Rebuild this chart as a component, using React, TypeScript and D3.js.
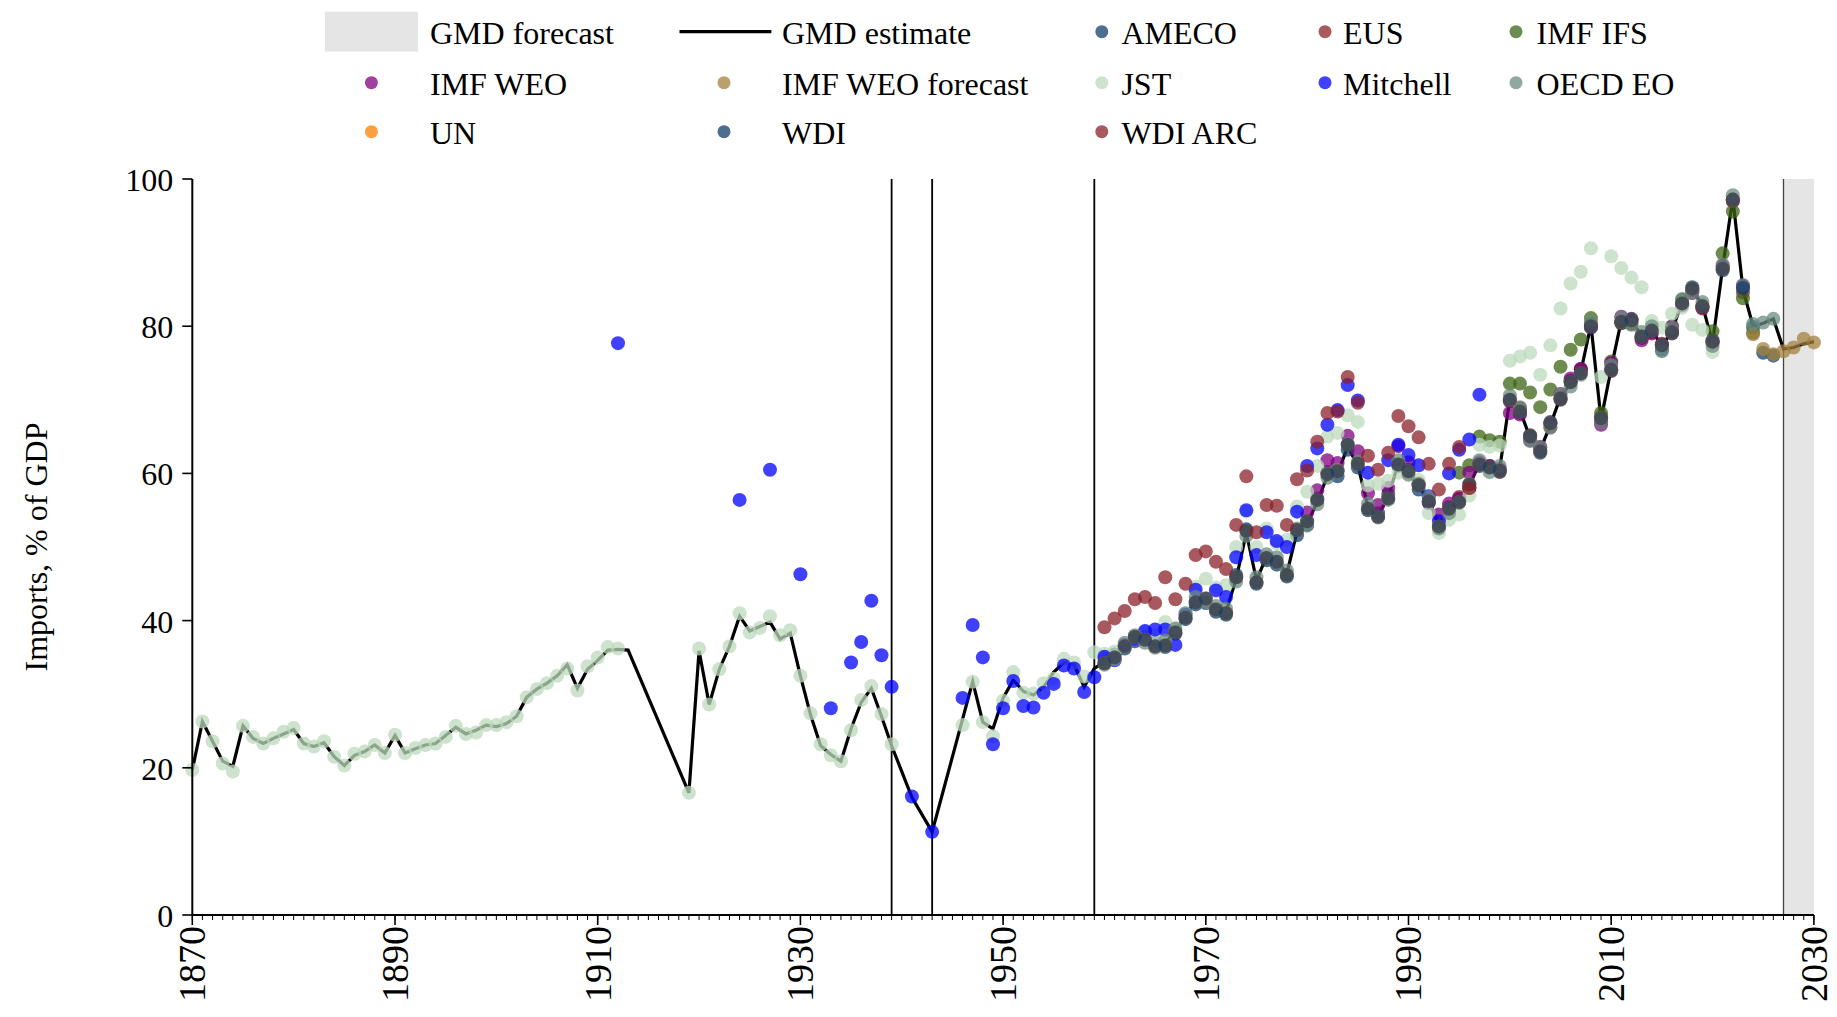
import React from 'react';
import * as d3 from 'd3';

type Pt = [number, number];

// ---------- axis / annotation values ----------
const xTickYears = [1870, 1890, 1910, 1930, 1950, 1970, 1990, 2010, 2030];
const yTickValues = [0, 20, 40, 60, 80, 100];
const eventYears = [1939, 1943, 1959];
const forecastStart = 2027;
const forecastEnd = 2030;
const yLabel = 'Imports, % of GDP';

// ---------- series ----------
const gmdEstimate: Pt[] = [
  [1870, 19.7], [1871, 26.3], [1872, 23.6], [1873, 20.9], [1874, 20.2], [1875, 25.7], [1876, 24.0], [1877, 23.3],
  [1878, 24.0], [1879, 24.6], [1880, 25.2], [1881, 23.3], [1882, 22.9], [1883, 23.4], [1884, 21.5], [1885, 20.3],
  [1886, 21.7], [1887, 22.2], [1888, 23.1], [1889, 22.0], [1890, 24.4], [1891, 22.0], [1892, 22.6], [1893, 23.1],
  [1894, 23.3], [1895, 24.4], [1896, 25.5], [1897, 24.6], [1898, 25.1], [1899, 25.8], [1900, 25.6], [1901, 26.0],
  [1902, 27.0], [1903, 29.6], [1904, 30.7], [1905, 31.5], [1906, 32.5], [1907, 34.0], [1908, 30.8], [1909, 33.4],
  [1910, 34.6], [1911, 36.0], [1912, 36.1], [1913, 36.0],
  [1919, 16.6], [1920, 35.9], [1921, 28.6], [1922, 33.4], [1923, 36.5], [1924, 40.6], [1925, 38.6], [1926, 39.2],
  [1927, 39.8], [1928, 37.5], [1929, 38.3], [1930, 32.5], [1931, 27.2], [1932, 23.0], [1933, 21.8], [1934, 20.9],
  [1935, 25.3], [1936, 28.9], [1937, 30.8], [1938, 27.0], [1939, 23.0], [1941, 16.0], [1943, 11.3],
  [1947, 31.7], [1948, 26.2], [1949, 25.3], [1950, 29.5], [1951, 31.9], [1952, 30.4], [1953, 29.9], [1954, 31.0],
  [1955, 33.0], [1956, 34.3], [1957, 34.0], [1958, 31.0], [1959, 33.5],
  [1960, 34.4], [1961, 35.1], [1962, 36.7], [1963, 37.6], [1964, 37.5], [1965, 36.8], [1966, 36.9], [1967, 38.7],
  [1968, 40.6], [1969, 42.8], [1970, 42.8], [1971, 41.7], [1972, 41.2], [1973, 45.7], [1974, 51.9], [1975, 45.5],
  [1976, 48.7], [1977, 48.2], [1978, 46.4], [1979, 52.1], [1980, 53.2], [1981, 56.1], [1982, 59.7], [1983, 60.0],
  [1984, 63.6], [1985, 61.1], [1986, 55.5], [1987, 54.3], [1988, 56.8], [1989, 61.4], [1990, 60.1], [1991, 58.2],
  [1992, 56.4], [1993, 53.0], [1994, 55.0], [1995, 56.3], [1996, 58.3], [1997, 61.4], [1998, 60.6], [1999, 60.6],
  [2000, 70.2], [2001, 68.6], [2002, 64.8], [2003, 63.2], [2004, 66.6], [2005, 70.4], [2006, 72.2], [2007, 73.8],
  [2008, 80.2], [2009, 67.3], [2010, 74.3], [2011, 80.8], [2012, 80.6], [2013, 78.8], [2014, 79.6], [2015, 77.2],
  [2016, 79.4], [2017, 83.3], [2018, 84.9], [2019, 82.9], [2020, 77.7], [2021, 88.0], [2022, 97.4], [2023, 85.0],
  [2024, 80.0], [2025, 80.4], [2026, 81.0], [2027, 76.9], [2028, 77.1], [2029, 77.6], [2030, 77.9],
];

const ameco: Pt[] = [
  [1960, 34.8], [1961, 35.4], [1962, 36.2], [1963, 37.2], [1964, 37.8], [1965, 37.0], [1966, 36.4], [1967, 38.2],
  [1968, 40.2], [1969, 42.2], [1970, 42.4], [1971, 41.2], [1972, 40.8], [1973, 46.2], [1974, 52.4], [1975, 45.0],
  [1976, 48.2], [1977, 47.6], [1978, 46.0], [1979, 51.6], [1980, 53.0], [1981, 56.6], [1982, 60.2], [1983, 59.6],
  [1984, 63.2], [1985, 60.8], [1986, 55.0], [1987, 54.6], [1988, 57.2], [1989, 61.0], [1990, 60.5], [1991, 57.8],
  [1992, 56.0], [1993, 52.6], [1994, 55.4], [1995, 56.6], [1996, 58.0], [1997, 61.0], [1998, 61.0], [1999, 60.2],
  [2000, 69.8], [2001, 68.2], [2002, 65.2], [2003, 62.8], [2004, 67.0], [2005, 70.0], [2006, 72.6], [2007, 74.2],
  [2008, 79.8], [2009, 67.7], [2010, 73.9], [2011, 80.4], [2012, 81.0], [2013, 78.4], [2014, 79.2], [2015, 76.8],
  [2016, 79.0], [2017, 82.9], [2018, 85.3], [2019, 82.5], [2020, 78.1], [2021, 87.6], [2022, 97.0], [2023, 85.4],
  [2024, 79.9], [2025, 76.4], [2026, 76.0],
];

const eus: Pt[] = [
  [1995, 56.8], [1996, 58.0], [1997, 61.2], [1998, 60.9], [1999, 60.3], [2000, 69.9], [2001, 68.9], [2002, 65.1],
  [2003, 63.5], [2004, 66.3], [2005, 70.1], [2006, 72.5], [2007, 74.1], [2008, 80.3], [2009, 67.0], [2010, 74.0],
  [2011, 80.5], [2012, 80.3], [2013, 78.5], [2014, 79.3], [2015, 77.6], [2016, 79.1], [2017, 83.0], [2018, 84.9],
  [2019, 82.4], [2020, 77.8], [2021, 88.1], [2022, 97.0], [2023, 84.6],
];

const imfIfs: Pt[] = [
  [1995, 60.1], [1996, 61.1], [1997, 65.0], [1998, 64.5], [1999, 64.3], [2000, 72.2], [2001, 72.2], [2002, 71.0],
  [2003, 69.0], [2004, 71.4], [2005, 74.5], [2006, 76.8], [2007, 78.2], [2008, 81.1], [2009, 68.2], [2010, 75.2],
  [2011, 80.5], [2012, 80.5], [2013, 78.5], [2014, 79.2], [2015, 77.5], [2016, 80.0], [2017, 83.6], [2018, 84.8],
  [2019, 82.8], [2020, 79.3], [2021, 89.9], [2022, 95.6], [2023, 83.8], [2024, 79.1],
];

const imfWeo: Pt[] = [
  [1980, 54.7], [1981, 57.7], [1982, 61.8], [1983, 61.4], [1984, 65.1], [1985, 63.0], [1986, 57.3], [1987, 55.7],
  [1988, 58.0], [1989, 63.7], [1990, 61.5], [1991, 58.5], [1992, 56.0], [1993, 54.4], [1994, 55.9], [1995, 56.5],
  [1996, 60.1], [1997, 61.5], [1998, 61.0], [1999, 60.6], [2000, 68.2], [2001, 68.0], [2002, 64.5], [2003, 63.6],
  [2004, 66.8], [2005, 70.8], [2006, 72.9], [2007, 74.2], [2008, 79.9], [2009, 66.6], [2010, 75.0], [2011, 81.3],
  [2012, 80.9], [2013, 78.1], [2014, 79.0], [2015, 77.5], [2016, 79.9], [2017, 82.8], [2018, 84.5], [2019, 82.6],
  [2020, 77.8], [2021, 88.2], [2022, 97.2], [2023, 85.5],
];

const imfWeoForecast: Pt[] = [
  [2024, 78.9], [2025, 76.9], [2026, 76.2], [2027, 76.6], [2028, 77.1], [2029, 78.3], [2030, 77.8],
];

const jst: Pt[] = [
  [1870, 19.7], [1871, 26.3], [1872, 23.6], [1873, 20.6], [1874, 19.5], [1875, 25.7], [1876, 24.2], [1877, 23.3],
  [1878, 24.0], [1879, 24.9], [1880, 25.4], [1881, 23.3], [1882, 22.9], [1883, 23.6], [1884, 21.5], [1885, 20.3],
  [1886, 21.9], [1887, 22.2], [1888, 23.1], [1889, 22.0], [1890, 24.5], [1891, 22.0], [1892, 22.7], [1893, 23.1],
  [1894, 23.3], [1895, 24.2], [1896, 25.7], [1897, 24.6], [1898, 24.8], [1899, 25.8], [1900, 25.8], [1901, 26.2],
  [1902, 27.0], [1903, 29.6], [1904, 30.7], [1905, 31.5], [1906, 32.5], [1907, 33.5], [1908, 30.5], [1909, 33.8],
  [1910, 35.0], [1911, 36.4], [1912, 36.2],
  [1919, 16.6], [1920, 36.2], [1921, 28.6], [1922, 33.4], [1923, 36.5], [1924, 41.0], [1925, 38.4], [1926, 39.0],
  [1927, 40.6], [1928, 38.0], [1929, 38.7], [1930, 32.5], [1931, 27.4], [1932, 23.2], [1933, 21.7], [1934, 20.9],
  [1935, 25.1], [1936, 29.2], [1937, 31.1], [1938, 27.3], [1939, 23.2],
  [1946, 25.8], [1947, 31.7], [1948, 26.2], [1949, 24.3], [1950, 29.1], [1951, 33.0], [1952, 30.2], [1953, 30.1],
  [1954, 31.5], [1955, 32.1], [1956, 34.8], [1957, 34.3], [1958, 32.4], [1959, 35.7],
  [1960, 35.5], [1961, 35.8], [1962, 36.5], [1963, 37.5], [1964, 38.5], [1965, 38.0], [1966, 39.8], [1967, 39.0],
  [1968, 41.0], [1969, 44.6], [1970, 45.7], [1971, 44.5], [1972, 44.8], [1973, 50.0], [1974, 54.8], [1975, 50.0],
  [1976, 52.5], [1977, 50.5], [1978, 51.0], [1979, 55.5], [1980, 57.5], [1981, 61.0], [1982, 65.0], [1983, 65.5],
  [1984, 67.9], [1985, 67.0], [1986, 58.4], [1987, 58.6], [1988, 59.0], [1989, 60.1], [1990, 60.0], [1991, 59.1],
  [1992, 54.6], [1993, 51.9], [1994, 53.7], [1995, 54.4], [1996, 57.0], [1997, 63.9], [1998, 63.6], [1999, 63.8],
  [2000, 75.3], [2001, 75.9], [2002, 76.4], [2003, 73.4], [2004, 77.4], [2005, 82.4], [2006, 85.8], [2007, 87.4],
  [2008, 90.6], [2009, 73.1], [2010, 89.5], [2011, 87.9], [2012, 86.6], [2013, 85.3], [2014, 80.7], [2015, 79.8],
  [2016, 81.7], [2017, 82.5], [2018, 80.2], [2019, 79.5], [2020, 76.5],
];

const mitchell: Pt[] = [
  [1912, 77.7], [1924, 56.4], [1927, 60.5], [1930, 46.3], [1933, 28.1], [1935, 34.3], [1936, 37.1], [1937, 42.7],
  [1938, 35.3], [1939, 31.0], [1941, 16.1], [1943, 11.3], [1946, 29.5], [1947, 39.4], [1948, 35.0], [1949, 23.2],
  [1950, 28.1], [1951, 31.8], [1952, 28.4], [1953, 28.2], [1954, 30.2], [1955, 31.4], [1956, 33.9], [1957, 33.5],
  [1958, 30.3], [1959, 32.3], [1960, 35.1], [1961, 34.6], [1962, 36.7], [1963, 37.5], [1964, 38.6], [1965, 38.8],
  [1966, 38.8], [1967, 36.7], [1968, 40.8], [1969, 44.2], [1971, 44.1], [1972, 43.2], [1973, 48.6], [1974, 55.0],
  [1975, 48.9], [1976, 52.0], [1977, 50.8], [1978, 50.0], [1979, 54.8], [1980, 61.0], [1981, 63.4], [1982, 66.6],
  [1983, 68.6], [1984, 72.0], [1985, 69.9], [1986, 60.1], [1988, 61.8], [1989, 63.9], [1990, 62.5], [1991, 61.1],
  [1992, 56.9], [1993, 53.5], [1994, 60.0], [1995, 63.2], [1996, 64.6], [1997, 70.7],
];

const oecdEo: Pt[] = [
  [1960, 34.0], [1961, 34.7], [1962, 37.0], [1963, 38.0], [1964, 37.0], [1965, 36.3], [1966, 37.3], [1967, 38.9],
  [1968, 41.0], [1969, 43.2], [1970, 42.4], [1971, 42.0], [1972, 41.6], [1973, 45.3], [1974, 51.5], [1975, 45.9],
  [1976, 49.0], [1977, 48.6], [1978, 46.8], [1979, 52.5], [1980, 52.9], [1981, 55.8], [1982, 59.4], [1983, 60.5],
  [1984, 64.0], [1985, 61.6], [1986, 55.9], [1987, 54.0], [1988, 56.4], [1989, 61.8], [1990, 59.8], [1991, 58.6],
  [1992, 56.8], [1993, 52.5], [1994, 54.6], [1995, 56.0], [1996, 58.6], [1997, 61.8], [1998, 60.2], [1999, 61.0],
  [2000, 70.6], [2001, 69.0], [2002, 64.4], [2003, 63.6], [2004, 66.2], [2005, 70.8], [2006, 71.8], [2007, 73.4],
  [2008, 80.6], [2009, 66.9], [2010, 74.7], [2011, 81.2], [2012, 80.2], [2013, 79.2], [2014, 80.0], [2015, 76.6],
  [2016, 79.8], [2017, 83.7], [2018, 84.5], [2019, 83.3], [2020, 77.3], [2021, 88.4], [2022, 97.8], [2023, 85.6],
  [2024, 80.3], [2025, 80.5], [2026, 81.0],
];

const un: Pt[] = [
  [1960, 34.2], [1961, 35.0], [1962, 36.5], [1963, 37.8], [1964, 37.4], [1965, 36.5], [1966, 36.6], [1967, 38.4],
  [1968, 40.4], [1969, 42.5],
  [1970, 43.0], [1971, 41.5], [1972, 41.0], [1973, 45.9], [1974, 52.2], [1975, 45.2], [1976, 48.5], [1977, 48.0],
  [1978, 46.2], [1979, 52.3], [1980, 53.5], [1981, 56.4], [1982, 59.9], [1983, 60.3], [1984, 63.9], [1985, 61.3],
  [1986, 55.2], [1987, 54.1], [1988, 56.6], [1989, 61.2], [1990, 60.3], [1991, 58.4], [1992, 56.2], [1993, 52.8],
  [1994, 55.2], [1995, 56.1], [1996, 58.5], [1997, 61.2], [1998, 60.8], [1999, 60.4], [2000, 70.0], [2001, 68.4],
  [2002, 65.0], [2003, 63.0], [2004, 66.8], [2005, 70.2], [2006, 72.4], [2007, 73.6], [2008, 80.0], [2009, 67.5],
  [2010, 74.1], [2011, 80.6], [2012, 80.8], [2013, 78.6], [2014, 79.4], [2015, 77.4], [2016, 79.2], [2017, 83.1],
  [2018, 85.1], [2019, 82.7], [2020, 77.9], [2021, 87.8], [2022, 97.2],
];

const wdi: Pt[] = [
  [1960, 34.2], [1961, 35.0], [1962, 36.5], [1963, 37.8], [1964, 37.4], [1965, 36.5], [1966, 36.6], [1967, 38.4],
  [1968, 40.4], [1969, 42.5], [1970, 43.0], [1971, 41.5], [1972, 41.0], [1973, 45.9], [1974, 52.2], [1975, 45.2],
  [1976, 48.5], [1977, 48.0], [1978, 46.2], [1979, 52.3], [1980, 53.5], [1981, 56.4], [1982, 59.9], [1983, 60.3],
  [1984, 63.9], [1985, 61.3], [1986, 55.2], [1987, 54.1], [1988, 56.6], [1989, 61.2], [1990, 60.3], [1991, 58.4],
  [1992, 56.2], [1993, 52.8], [1994, 55.2], [1995, 56.1], [1996, 58.5], [1997, 61.2], [1998, 60.8], [1999, 60.4],
  [2000, 70.0], [2001, 68.4], [2002, 65.0], [2003, 63.0], [2004, 66.8], [2005, 70.2], [2006, 72.4], [2007, 73.6],
  [2008, 80.0], [2009, 67.5], [2010, 74.1], [2011, 80.6], [2012, 80.8], [2013, 78.6], [2014, 79.4], [2015, 77.4],
  [2016, 79.2], [2017, 83.1], [2018, 85.1], [2019, 82.7], [2020, 77.9], [2021, 87.8], [2022, 97.2], [2023, 85.2],
];

const wdiArc: Pt[] = [
  [1960, 39.1], [1961, 40.3], [1962, 41.3], [1963, 42.9], [1964, 43.2], [1965, 42.4], [1966, 45.9], [1967, 42.9],
  [1968, 45.0], [1969, 48.9], [1970, 49.4], [1971, 48.0], [1972, 47.0], [1973, 53.0], [1974, 59.6], [1975, 52.0],
  [1976, 55.7], [1977, 55.6], [1978, 53.0], [1979, 59.2], [1980, 60.4], [1981, 64.3], [1982, 68.2], [1983, 68.4],
  [1984, 73.1], [1985, 69.6], [1986, 62.4], [1987, 60.5], [1988, 62.8], [1989, 67.8], [1990, 66.4], [1991, 64.9],
  [1992, 61.3], [1993, 57.8], [1994, 61.3], [1995, 63.6], [1996, 58.0],
];

const seriesNames = ['AMECO', 'EUS', 'IMF IFS', 'IMF WEO', 'IMF WEO forecast', 'JST', 'Mitchell', 'OECD EO', 'UN', 'WDI', 'WDI ARC'];
const seriesColors = ['#11406c', '#8d2329', '#3d6515', '#800080', '#a1803d', '#bcd9bc', '#0000ff', '#698b80', '#ff8000', '#113d6c', '#8b2029'];
const seriesData: Pt[][] = [ameco, eus, imfIfs, imfWeo, imfWeoForecast, jst, mitchell, oecdEo, un, wdi, wdiArc];

// legend grid order (row-major, 5 columns)
const legendOrder = ['GMD forecast', 'GMD estimate', 'AMECO', 'EUS', 'IMF IFS', 'IMF WEO', 'IMF WEO forecast', 'JST', 'Mitchell', 'OECD EO', 'UN', 'WDI', 'WDI ARC'];

// ---------- layout ----------
const W = 1837;
const H = 1017;
const X0 = 192.3;
const X1 = 1813.9;
const Y0 = 915;
const Y1 = 179;
const FONT = "'Liberation Serif', 'Times New Roman', Times, serif";
const DOT_R = 7;
const DOT_OPACITY = 0.75;

const legendColMarker = [371.4, 724, 1101.8, 1325, 1516];
const legendColText = [430, 782, 1121.4, 1343, 1536.6];
const legendRowBaseline = [43.5, 94.5, 143.5];

export default function App() {
  const x = d3.scaleLinear().domain([1870, 2030]).range([X0, X1]);
  const y = d3.scaleLinear().domain([0, 100]).range([Y0, Y1]);
  const line = d3.line<Pt>().x((d) => x(d[0])).y((d) => y(d[1]));
  const minorYears = d3.range(1870, 2031);

  const legend = legendOrder.map((name, i) => {
    const row = Math.floor(i / 5);
    const col = i % 5;
    const base = legendRowBaseline[row];
    const my = base - 11.8;
    let handle: React.ReactNode = null;
    if (name === 'GMD forecast') {
      handle = <rect x={325} y={11.7} width={93} height={40} fill="#e5e5e5" />;
    } else if (name === 'GMD estimate') {
      handle = <line x1={679.5} x2={771.4} y1={my} y2={my} stroke="#000" strokeWidth={3.2} />;
    } else {
      const si = seriesNames.indexOf(name);
      handle = <circle cx={legendColMarker[col]} cy={my} r={6.5} fill={seriesColors[si]} fillOpacity={DOT_OPACITY} />;
    }
    return (
      <g key={name}>
        {handle}
        <text x={legendColText[col]} y={base} fontSize={32} fontFamily={FONT} fill="#000">{name}</text>
      </g>
    );
  });

  return (
    <div style={{ position: 'absolute', left: 0, top: 0 }}>
      <svg width={W} height={H} style={{ display: 'block', background: '#fff' }}>
        {/* forecast shading */}
        <rect x={x(forecastStart)} y={y(100)} width={x(forecastEnd) - x(forecastStart)} height={y(0) - y(100)} fill="#e5e5e5" />
        <line x1={x(forecastStart)} x2={x(forecastStart)} y1={y(100)} y2={y(0)} stroke="#444" strokeWidth={1.3} />
        {/* event lines */}
        {eventYears.map((yr) => (
          <line key={yr} x1={x(yr)} x2={x(yr)} y1={y(100)} y2={y(0)} stroke="#000" strokeWidth={1.8} />
        ))}
        {/* GMD estimate line */}
        <path d={line(gmdEstimate) || ''} fill="none" stroke="#000" strokeWidth={3.2} strokeLinejoin="miter" />
        {/* source dots */}
        {seriesData.map((data, si) => (
          <g key={seriesNames[si]} fill={seriesColors[si]} fillOpacity={DOT_OPACITY}>
            {data.map((d) => (
              <circle key={d[0]} cx={x(d[0])} cy={y(d[1])} r={DOT_R} />
            ))}
          </g>
        ))}
        {/* axes */}
        <line x1={X0} x2={X0} y1={Y1} y2={Y0} stroke="#000" strokeWidth={2} />
        <line x1={X0} x2={X1} y1={Y0} y2={Y0} stroke="#000" strokeWidth={2} />
        {yTickValues.map((v) => (
          <g key={v}>
            <line x1={X0 - 10} x2={X0} y1={y(v)} y2={y(v)} stroke="#000" strokeWidth={1.6} />
            <text x={X0 - 19} y={y(v) + 12} textAnchor="end" fontSize={32} fontFamily={FONT} fill="#000">{v}</text>
          </g>
        ))}
        {minorYears.map((yr) => (
          <line key={yr} x1={x(yr)} x2={x(yr)} y1={Y0} y2={Y0 + 5} stroke="#000" strokeWidth={1} />
        ))}
        {xTickYears.map((yr) => (
          <g key={yr}>
            <line x1={x(yr)} x2={x(yr)} y1={Y0} y2={Y0 + 10} stroke="#000" strokeWidth={1.6} />
            <text transform={`translate(${x(yr) + 12.8},${Y0 + 11}) rotate(-90)`} textAnchor="end" fontSize={38} fontFamily={FONT} fill="#000">{yr}</text>
          </g>
        ))}
        <text transform={`translate(47,${(Y0 + Y1) / 2}) rotate(-90)`} textAnchor="middle" fontSize={32} fontFamily={FONT} fill="#000">{yLabel}</text>
        {legend}
      </svg>
    </div>
  );
}
